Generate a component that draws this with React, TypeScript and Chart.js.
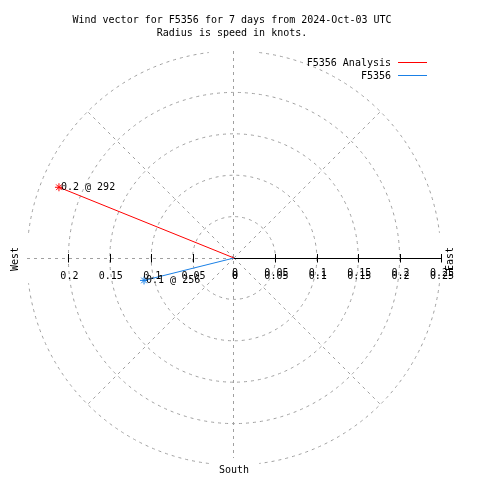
import { useEffect, useRef } from "react";
import { Chart, registerables } from "chart.js";

Chart.register(...registerables);

// ---- data ----
const seriesNames = ["F5356 Analysis", "F5356"];
const speeds = [0.228, 0.112]; // knots (radius)
const directions = [292, 256]; // degrees, clockwise from north
const seriesColors = ["#ff0000", "#1a80e6"];
const ringValues = [0.05, 0.1, 0.15, 0.2, 0.25];
const spokeAngles = [45, 135, 225, 315];
const westTickValues = [0.2, 0.15, 0.1, 0.05, 0];
const eastTickValues = [0, 0.05, 0.1, 0.15, 0.2, 0.25];
const titleLines = [
  "Wind vector for F5356 for 7 days from 2024-Oct-03 UTC",
  "Radius is speed in knots.",
];
const compass = { west: "West", east: "East", south: "South" };
const rMax = 0.25;

const FONT = "10px 'DejaVu Sans Mono', monospace";
const GRID = "#a0a0a0";

function fmt(v: number) {
  return v === 0 ? "0" : String(parseFloat(v.toFixed(2)));
}

const polarPlugin = {
  id: "polarDecor",
  beforeDatasetsDraw(chart: any) {
    const ctx = chart.ctx as CanvasRenderingContext2D;
    const xs = chart.scales.x;
    const ys = chart.scales.y;
    const cx = xs.getPixelForValue(0);
    const cy = ys.getPixelForValue(0);
    const rp = (v: number) => xs.getPixelForValue(v) - cx;
    ctx.save();
    ctx.strokeStyle = GRID;
    ctx.lineWidth = 1;
    ctx.setLineDash([3, 4]);
    // rings
    ringValues.forEach((r) => {
      const R = rp(r);
      if (r < rMax) {
        ctx.beginPath();
        ctx.arc(cx, cy, R, 0, Math.PI * 2);
        ctx.stroke();
      } else {
        const gap = (7 * Math.PI) / 180;
        for (let q = 0; q < 4; q++) {
          const a0 = (q * Math.PI) / 2 + gap;
          const a1 = ((q + 1) * Math.PI) / 2 - gap;
          ctx.beginPath();
          ctx.arc(cx, cy, R, a0, a1);
          ctx.stroke();
        }
      }
    });
    // spokes
    spokeAngles.forEach((deg) => {
      const a = (deg * Math.PI) / 180;
      ctx.beginPath();
      ctx.moveTo(cx, cy);
      ctx.lineTo(
        xs.getPixelForValue(rMax * Math.sin(a)),
        ys.getPixelForValue(rMax * Math.cos(a))
      );
      ctx.stroke();
    });
    // vertical (north-south)
    ctx.beginPath();
    ctx.moveTo(cx - 0.5, ys.getPixelForValue(rMax));
    ctx.lineTo(cx - 0.5, ys.getPixelForValue(-rMax) - 7);
    ctx.stroke();
    // west horizontal
    ctx.beginPath();
    ctx.moveTo(xs.getPixelForValue(-rMax), cy + 0.5);
    ctx.lineTo(cx, cy + 0.5);
    ctx.stroke();
    ctx.setLineDash([]);
    // east axis solid
    ctx.strokeStyle = "#000";
    ctx.beginPath();
    ctx.moveTo(cx, cy + 0.5);
    ctx.lineTo(xs.getPixelForValue(rMax), cy + 0.5);
    ctx.stroke();
    // tick marks
    const tickAt = (v: number) => {
      const x = Math.round(xs.getPixelForValue(v)) + 0.5;
      ctx.beginPath();
      ctx.moveTo(x, cy - 4);
      ctx.lineTo(x, cy + 4.5);
      ctx.stroke();
    };
    westTickValues.filter((v) => v > 0).forEach((v) => tickAt(-v));
    eastTickValues.filter((v) => v > 0).forEach((v) => tickAt(v));
    ctx.restore();
  },
  afterDatasetsDraw(chart: any) {
    const ctx = chart.ctx as CanvasRenderingContext2D;
    const xs = chart.scales.x;
    const ys = chart.scales.y;
    const cx = xs.getPixelForValue(0);
    const cy = ys.getPixelForValue(0);
    ctx.save();
    ctx.font = FONT;
    ctx.fillStyle = "#000";
    ctx.textBaseline = "middle";
    // title
    ctx.textAlign = "center";
    ctx.fillText(titleLines[0], 232, 20);
    ctx.fillText(titleLines[1], 232, 33);
    // legend
    ctx.textAlign = "right";
    seriesNames.forEach((n, i) => {
      const y = 63 + i * 13;
      ctx.fillStyle = "#000";
      ctx.fillText(n, 391, y);
      ctx.strokeStyle = seriesColors[i];
      ctx.lineWidth = 1;
      ctx.beginPath();
      ctx.moveTo(398, y - 0.5);
      ctx.lineTo(427, y - 0.5);
      ctx.stroke();
    });
    // tick labels
    ctx.fillStyle = "#000";
    ctx.textAlign = "center";
    westTickValues.forEach((v) => {
      ctx.fillText(fmt(v), xs.getPixelForValue(-v) + 1, cy + 18);
    });
    eastTickValues.forEach((v) => {
      const x = xs.getPixelForValue(v) + 1;
      ctx.fillText(fmt(v), x, cy + 15);
      ctx.fillText(fmt(v), x, cy + 18);
    });
    // point labels
    ctx.textAlign = "left";
    speeds.forEach((s, i) => {
      const a = (directions[i] * Math.PI) / 180;
      const px = xs.getPixelForValue(s * Math.sin(a));
      const py = ys.getPixelForValue(s * Math.cos(a));
      ctx.fillText(`${s.toFixed(1)} @ ${directions[i]}`, px + 2, py);
    });
    // compass labels
    ctx.textAlign = "center";
    ctx.fillText(compass.south, cx, ys.getPixelForValue(-rMax) + 5);
    ctx.save();
    ctx.translate(15, cy + 1);
    ctx.rotate(-Math.PI / 2);
    ctx.fillText(compass.west, 0, 0);
    ctx.restore();
    ctx.save();
    ctx.translate(450, cy + 1);
    ctx.rotate(-Math.PI / 2);
    ctx.fillText(compass.east, 0, 0);
    ctx.restore();
    ctx.restore();
  },
};

export default function App() {
  const ref = useRef<HTMLCanvasElement>(null);
  useEffect(() => {
    if (!ref.current) return;
    const datasets = speeds.map((s, i) => {
      const a = (directions[i] * Math.PI) / 180;
      return {
        label: seriesNames[i],
        data: [
          { x: 0, y: 0 },
          { x: s * Math.sin(a), y: s * Math.cos(a) },
        ],
        showLine: true,
        borderColor: seriesColors[i],
        backgroundColor: seriesColors[i],
        borderWidth: 1,
        pointStyle: "star" as const,
        pointRadius: [0, 4],
        pointBorderWidth: 1,
        pointBorderColor: seriesColors[i],
      };
    });
    const chart = new Chart(ref.current, {
      type: "scatter",
      data: { datasets },
      options: {
        animation: false,
        responsive: false,
        events: [],
        layout: { padding: { left: 27, right: 39, top: 51, bottom: 15 } },
        plugins: {
          legend: { display: false },
          title: { display: false },
          tooltip: { enabled: false },
        },
        scales: {
          x: { type: "linear", min: -rMax, max: rMax, display: false },
          y: { type: "linear", min: -rMax, max: rMax, display: false },
        },
      },
      plugins: [polarPlugin],
    });
    return () => chart.destroy();
  }, []);
  return (
    <div style={{ position: "fixed", left: 0, top: 0, width: 480, height: 480, background: "#fff" }}>
      <canvas ref={ref} width={480} height={480} />
    </div>
  );
}
